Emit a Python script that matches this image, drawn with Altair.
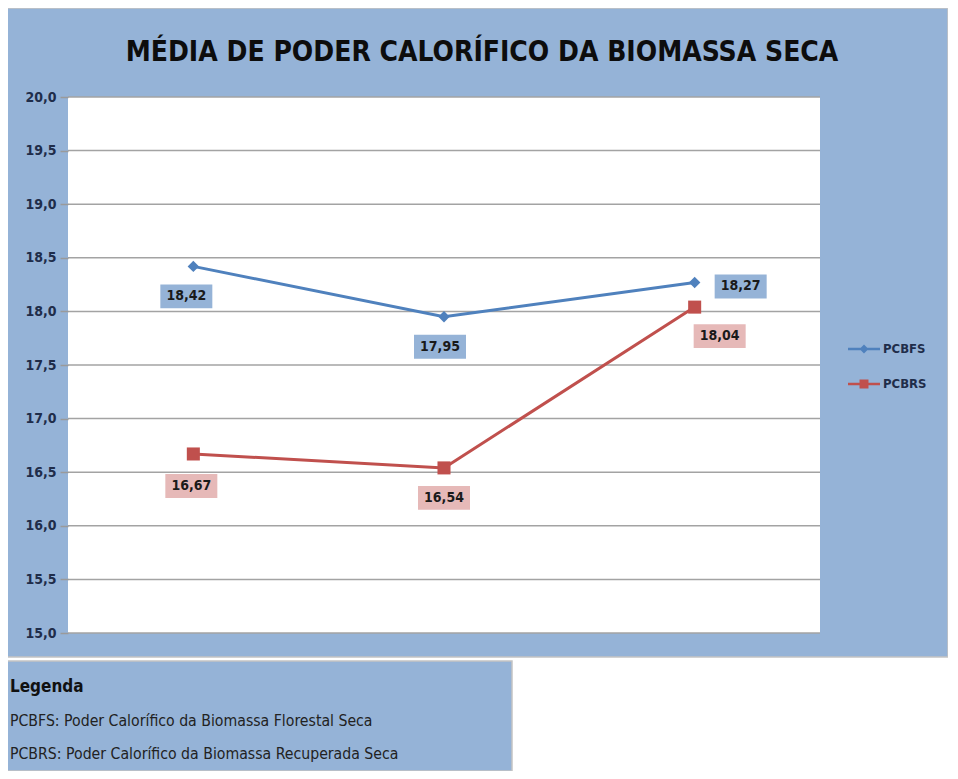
import altair as alt
import pandas as pd

# ---------------- data ----------------
categories = ["Amostra 1", "Amostra 2", "Amostra 3"]
series_names = ["PCBFS", "PCBRS"]
pcbfs = [18.42, 17.95, 18.27]
pcbrs = [16.67, 16.54, 18.04]
y_ticks = [15.0, 15.5, 16.0, 16.5, 17.0, 17.5, 18.0, 18.5, 19.0, 19.5, 20.0]
title_text = "MÉDIA DE PODER CALORÍFICO DA BIOMASSA SECA"
legend_title = "Legenda"
legend_lines = [
    "PCBFS: Poder Calorífico da Biomassa Florestal Seca",
    "PCBRS: Poder Calorífico da Biomassa Recuperada Seca",
]

# ---------------- layout / style ----------------
label_dx = {"PCBFS": [-7, -4, 46], "PCBRS": [-2, 0, 25]}
label_dy = {"PCBFS": [30, 30, 4], "PCBRS": [32, 30, 29]}
line_colors = ["#4F81BD", "#C0504D"]
marker_shapes = {"PCBFS": ("diamond", 130), "PCBRS": ("square", 170)}
box_colors = {"PCBFS": "#95B3D7", "PCBRS": "#E6B9B8"}
BG = "#95B3D7"
FONT = "DejaVu Sans Condensed, Liberation Sans Narrow, Open Sans, sans-serif"
W, H = 752, 536

rows = []
for s, vals in zip(series_names, [pcbfs, pcbrs]):
    for i, (c, v) in enumerate(zip(categories, vals)):
        rows.append({"category": c, "series": s, "value": v,
                     "label": f"{v:.2f}".replace(".", ",")})
df = pd.DataFrame(rows)
one = pd.DataFrame({"k": [0]})

x_enc = alt.X("category:N", scale=alt.Scale(type="point", domain=categories, padding=0.5), axis=None)
y_scale = alt.Scale(domain=[15, 20], nice=False, zero=False)
y_axis = alt.Axis(values=y_ticks, labelExpr="replace(format(datum.value, '.1f'), '.', ',')",
                  grid=False, domain=False, ticks=True, tickSize=8, tickColor="#9A9A9A",
                  tickWidth=1.5, labelFont=FONT, labelFontSize=14, labelFontWeight="bold",
                  labelColor="#1F2D4A", labelPadding=4, title=None, zindex=2)
y_enc = alt.Y("value:Q", scale=y_scale, axis=y_axis)
color_scale = alt.Scale(domain=series_names, range=line_colors)

outer = alt.Chart(one).mark_rect(fill=BG, stroke="#C4C4C4", strokeWidth=1.5).encode(
    x=alt.value(-62), x2=alt.value(880), y=alt.value(-89), y2=alt.value(560))
legend_box = alt.Chart(one).mark_rect(fill=BG, stroke="#C4C4C4", strokeWidth=1.5).encode(
    x=alt.value(-62), x2=alt.value(444), y=alt.value(564), y2=alt.value(674))
plot_bg = alt.Chart(one).mark_rect(fill="white").encode(
    x=alt.value(0), x2=alt.value(W), y=alt.value(0), y2=alt.value(H))

grid = alt.Chart(pd.DataFrame({"value": y_ticks})).mark_rule(color="#A3A3A3", strokeWidth=1.5).encode(
    y=y_enc)

series_layers = []
for s, col in zip(series_names, line_colors):
    sub = df[df.series == s]
    series_layers.append(alt.Chart(sub).mark_line(strokeWidth=3, color=col).encode(x=x_enc, y=y_enc))
for s, col in zip(series_names, line_colors):
    sub = df[df.series == s]
    shp, sz = marker_shapes[s]
    series_layers.append(alt.Chart(sub).mark_point(
        shape=shp, filled=True, size=sz, opacity=1, color=col).encode(x=x_enc, y=y_enc))

label_layers = []
for s in series_names:
    for i, c in enumerate(categories):
        sub = df[(df.series == s) & (df.category == c)]
        dx, dy = label_dx[s][i], label_dy[s][i]
        label_layers.append(alt.Chart(sub).mark_point(
            shape="M-1,-0.46H1V0.46H-1Z", filled=True, size=2704, opacity=1, strokeWidth=0,
            fill=box_colors[s], xOffset=dx, yOffset=dy).encode(x=x_enc, y=y_enc))
        label_layers.append(alt.Chart(sub).mark_text(
            font=FONT, fontSize=14, fontWeight="bold", color="#1A1A1A",
            baseline="middle", align="center", dx=dx, dy=dy).encode(
            x=x_enc, y=y_enc, text="label:N"))

legend_paths = [
    "M-1,-0.08H1V0.08H-1Z M0,-0.28L0.28,0L0,0.28L-0.28,0Z",
    "M-1,-0.08H1V0.08H-1Z M-0.28,-0.28H0.28V0.28H-0.28Z",
]
leg_def = alt.Legend(title=None, orient="none", legendX=780, legendY=236,
                     symbolSize=1024, symbolStrokeWidth=0, rowPadding=12,
                     labelFont=FONT, labelFontSize=13, labelFontWeight="bold",
                     labelColor="#1F2D4A", labelOffset=3, zindex=2)
legend_layer = alt.Chart(df).transform_filter("false").mark_point(
    filled=True, opacity=1, size=1024).encode(
    x=x_enc, y=y_enc,
    color=alt.Color("series:N", scale=color_scale, legend=leg_def),
    shape=alt.Shape("series:N", scale=alt.Scale(domain=series_names, range=legend_paths), legend=leg_def),
)

title = alt.Chart(pd.DataFrame({"t": [title_text]})).mark_text(
    font=FONT, fontSize=28, fontWeight="bold", color="#0D0D0D", align="center",
    baseline="alphabetic").encode(text="t:N", x=alt.value(414), y=alt.value(-36))

leg_t = alt.Chart(pd.DataFrame({"t": [legend_title]})).mark_text(
    font=FONT, fontSize=17, fontWeight="bold", color="#111111", align="left",
    baseline="middle").encode(text="t:N", x=alt.value(-58), y=alt.value(590))
leg_1 = alt.Chart(pd.DataFrame({"t": [legend_lines[0]]})).mark_text(
    font=FONT, fontSize=15.7, color="#222222", align="left",
    baseline="middle").encode(text="t:N", x=alt.value(-58), y=alt.value(624))
leg_2 = alt.Chart(pd.DataFrame({"t": [legend_lines[1]]})).mark_text(
    font=FONT, fontSize=15.7, color="#222222", align="left",
    baseline="middle").encode(text="t:N", x=alt.value(-58), y=alt.value(657))

chart = alt.layer(
    outer, legend_box, plot_bg, grid, *series_layers, *label_layers,
    legend_layer, title, leg_t, leg_1, leg_2,
).properties(
    width=W, height=H,
    autosize=alt.AutoSizeParams(type="none"),
    padding={"left": 60, "top": 89, "right": 128, "bottom": 138},
).configure_view(stroke=None).configure(background="white")

chart.save("out.html", embed_options={"renderer": "svg", "actions": False})
